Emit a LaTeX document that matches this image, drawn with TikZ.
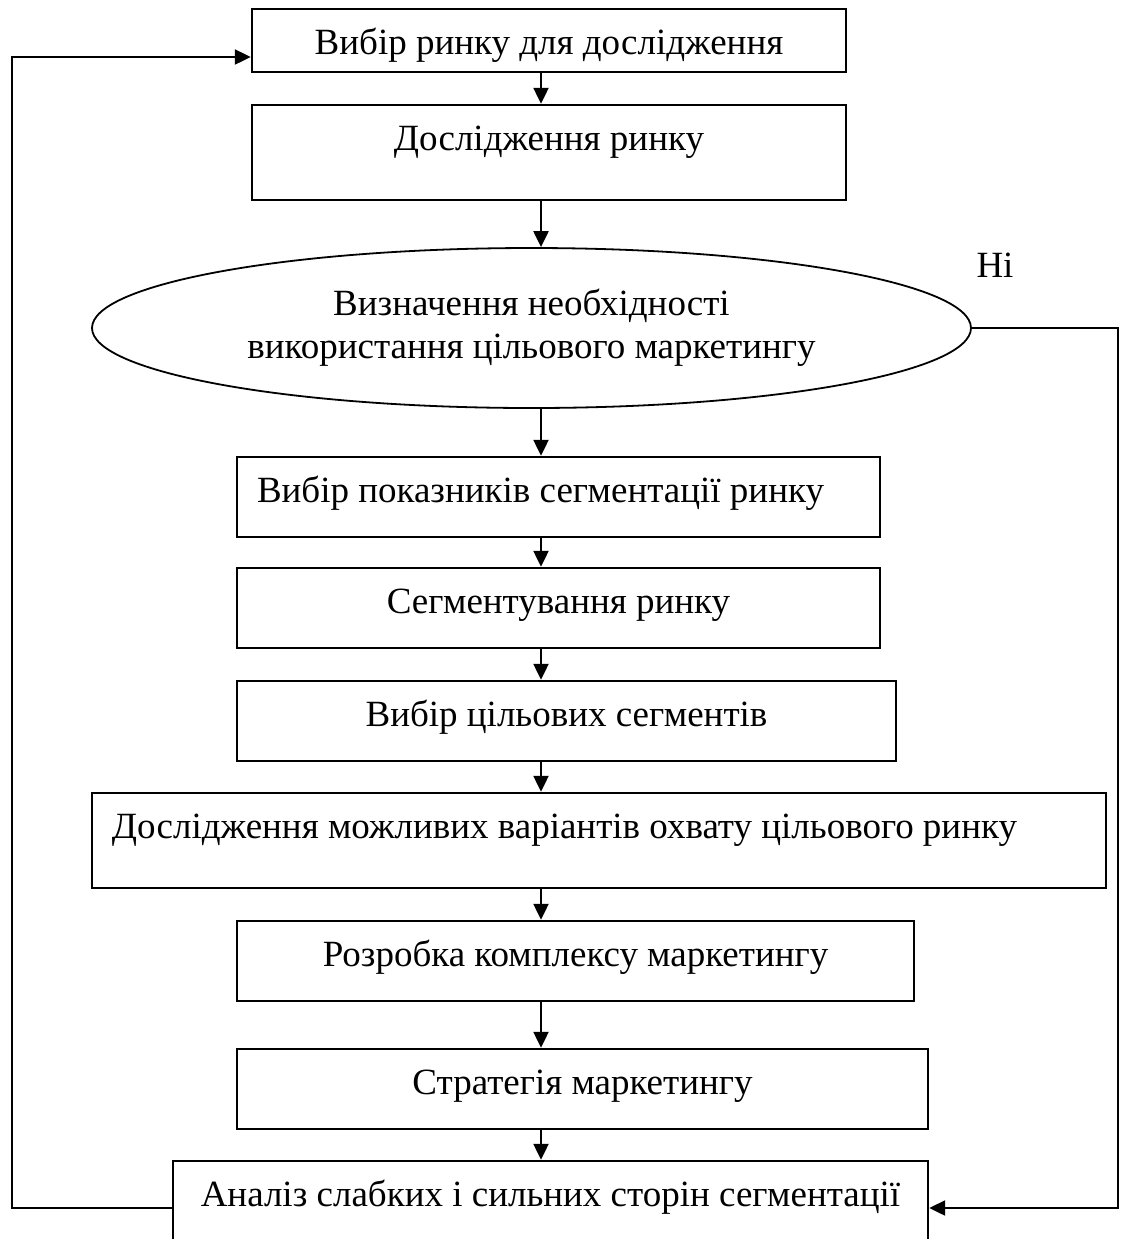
\documentclass[tikz,border=0pt]{standalone}
\usepackage{fontspec}
\setmainfont{Liberation Serif}
\usetikzlibrary{arrows.meta,shapes.geometric}
\tikzstyle{box}=[rectangle,draw=black,line width=1.2pt,inner xsep=0pt,
  inner ysep=0pt,text height=22.5pt,font=\fontsize{18.5}{21.5}\selectfont]
\tikzstyle{lbox}=[box,align=flush left,inner xsep=10pt]
\tikzstyle{oval}=[ellipse,draw=black,line width=0.9pt,inner sep=0pt,
  minimum width=439.5pt,minimum height=80pt,align=center,
  font=\fontsize{18.5}{21.5}\selectfont]
\tikzstyle{arr}=[line width=1.1pt,-{Triangle[length=8pt,width=7.5pt]}]
\tikzstyle{txt}=[inner sep=0pt,font=\fontsize{18.5}{21.5}\selectfont]
\tikzstyle{none}=[]

\begin{document}
\begin{tikzpicture}[x=0.5pt,y=0.5pt]
            \useasboundingbox (0, 0) rectangle (1123, -1239);
            \node [style=box, minimum width=297pt, text depth=9pt] (0) at (549, -40.5) {Вибір ринку для дослідження};
            \node [style=box, minimum width=297pt, text depth=25pt] (1) at (549, -152.5) {Дослідження ринку};
            \node [style=oval] (2) at (531.5, -328) {Визначення необхідності\\використання цільового маркетингу};
            \node [style=lbox, text width=301.5pt, text depth=17.5pt] (3) at (558.5, -497) {Вибір показників сегментації ринку};
            \node [style=box, minimum width=321.5pt, text depth=17.5pt] (4) at (558.5, -608) {Сегментування ринку};
            \node [style=box, minimum width=329.5pt, text depth=17.5pt] (5) at (566.5, -721) {Вибір цільових сегментів};
            \node [style=lbox, text width=487pt, text depth=25pt] (6) at (599, -840.5) {Дослідження можливих варіантів охвату цільового ринку};
            \node [style=box, minimum width=338.5pt, text depth=17.5pt] (7) at (575.5, -961) {Розробка комплексу маркетингу};
            \node [style=box, minimum width=345.5pt, text depth=17.5pt] (8) at (582.5, -1089) {Стратегія маркетингу};
            \node [style=box, minimum width=377.5pt, text depth=24.5pt] (9) at (550.5, -1208) {Аналіз слабких і сильних сторін сегментації};
            \node [style=txt, anchor=base] (10) at (995, -277) {Ні};
            \coordinate (11) at (541, 0);
            \coordinate (12) at (12, -57);
            \coordinate (13) at (1118, -328);
            \draw [style=arr] (0.south -| 11) to (1.north -| 11);
            \draw [style=arr] (1.south -| 11) to (2.north -| 11);
            \draw [style=arr] (2.south -| 11) to (3.north -| 11);
            \draw [style=arr] (3.south -| 11) to (4.north -| 11);
            \draw [style=arr] (4.south -| 11) to (5.north -| 11);
            \draw [style=arr] (5.south -| 11) to (6.north -| 11);
            \draw [style=arr] (6.south -| 11) to (7.north -| 11);
            \draw [style=arr] (7.south -| 11) to (8.north -| 11);
            \draw [style=arr] (8.south -| 11) to (9.north -| 11);
            \draw [style=arr] (9.west) -| (12) to (0.west |- 12);
            \draw [style=arr] (2.east) to (13) |- (9.east);
\end{tikzpicture}
\end{document}
